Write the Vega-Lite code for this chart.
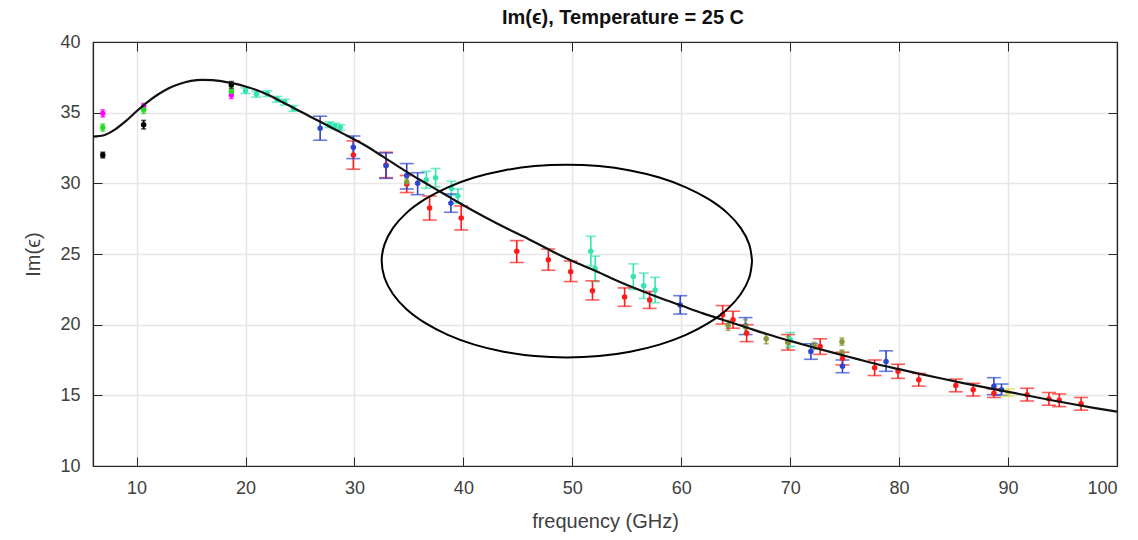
{
  "$schema": "https://vega.github.io/schema/vega-lite/v6.json",
  "autosize": {"type": "none"},
  "width": 1024,
  "height": 424,
  "padding": {"left": 93, "top": 42, "right": 21, "bottom": 74},
  "background": "white",
  "title": {"text": "Im(ϵ), Temperature = 25 C", "font": "Liberation Sans", "fontSize": 20, "fontWeight": "bold", "color": "#111111", "offset": 5, "dx": 18},
  "config": {
    "view": {"stroke": "#262626", "strokeWidth": 1.2},
    "axis": {
      "labelFont": "Liberation Sans", "labelFontSize": 18, "labelColor": "#404040",
      "titleFont": "Liberation Sans", "titleFontSize": 20, "titleColor": "#404040", "titleFontWeight": "normal",
      "gridColor": "#e6e6e6", "gridWidth": 1.5, "domainColor": "#262626", "domainWidth": 1.2,
      "tickColor": "#262626", "tickSize": -9, "tickWidth": 1
    }
  },
  "datasets": {
    "pts": [
      {"s": "black", "f": 6.9, "v": 32.0, "lo": 31.8, "hi": 32.2},
      {"s": "black", "f": 10.65, "v": 34.15, "lo": 33.85, "hi": 34.45},
      {"s": "black", "f": 18.7, "v": 36.95, "lo": 36.7, "hi": 37.2},
      {"s": "magenta", "f": 6.9, "v": 34.95, "lo": 34.7, "hi": 35.2},
      {"s": "magenta", "f": 10.65, "v": 35.45, "lo": 35.25, "hi": 35.65},
      {"s": "magenta", "f": 18.7, "v": 36.25, "lo": 36.0, "hi": 36.5},
      {"s": "green", "f": 6.9, "v": 33.95, "lo": 33.7, "hi": 34.2},
      {"s": "green", "f": 10.65, "v": 35.2, "lo": 34.95, "hi": 35.45},
      {"s": "green", "f": 18.7, "v": 36.5, "lo": 36.2, "hi": 36.8},
      {"s": "aqua", "f": 20.0, "v": 36.55, "lo": 36.35, "hi": 36.75},
      {"s": "aqua", "f": 21.0, "v": 36.3, "lo": 36.1, "hi": 36.5},
      {"s": "aqua", "f": 22.0, "v": 36.35, "lo": 36.15, "hi": 36.55},
      {"s": "aqua", "f": 22.9, "v": 35.95, "lo": 35.75, "hi": 36.15},
      {"s": "aqua", "f": 23.6, "v": 35.75, "lo": 35.55, "hi": 35.95},
      {"s": "aqua", "f": 24.4, "v": 35.3, "lo": 35.1, "hi": 35.5},
      {"s": "aqua", "f": 27.7, "v": 34.15, "lo": 33.95, "hi": 34.35},
      {"s": "aqua", "f": 28.2, "v": 34.05, "lo": 33.85, "hi": 34.25},
      {"s": "aqua", "f": 28.7, "v": 33.95, "lo": 33.75, "hi": 34.15},
      {"s": "aqua", "f": 36.6, "v": 30.25, "lo": 29.65, "hi": 30.85},
      {"s": "aqua", "f": 37.45, "v": 30.4, "lo": 29.75, "hi": 31.05},
      {"s": "aqua", "f": 38.9, "v": 29.65, "lo": 29.15, "hi": 30.15},
      {"s": "aqua", "f": 39.5, "v": 29.1, "lo": 28.6, "hi": 29.6},
      {"s": "aqua", "f": 51.7, "v": 25.2, "lo": 24.15, "hi": 26.25},
      {"s": "aqua", "f": 52.1, "v": 23.95, "lo": 23.05, "hi": 24.85},
      {"s": "aqua", "f": 55.6, "v": 23.4, "lo": 22.5, "hi": 24.3},
      {"s": "aqua", "f": 56.55, "v": 22.75, "lo": 21.85, "hi": 23.65},
      {"s": "aqua", "f": 57.6, "v": 22.45, "lo": 21.55, "hi": 23.35},
      {"s": "aqua", "f": 70.0, "v": 18.95, "lo": 18.45, "hi": 19.45},
      {"s": "red", "f": 29.9, "v": 32.0, "lo": 31.0, "hi": 33.0},
      {"s": "red", "f": 32.9, "v": 31.3, "lo": 30.4, "hi": 32.2},
      {"s": "red", "f": 34.8, "v": 29.95, "lo": 29.35, "hi": 30.55},
      {"s": "red", "f": 36.9, "v": 28.25, "lo": 27.4, "hi": 29.1},
      {"s": "red", "f": 39.8, "v": 27.55, "lo": 26.7, "hi": 28.4},
      {"s": "red", "f": 44.9, "v": 25.2, "lo": 24.4, "hi": 25.95},
      {"s": "red", "f": 47.8, "v": 24.6, "lo": 23.85, "hi": 25.35},
      {"s": "red", "f": 49.85, "v": 23.75, "lo": 23.05, "hi": 24.5},
      {"s": "red", "f": 51.85, "v": 22.4, "lo": 21.75, "hi": 23.1},
      {"s": "red", "f": 54.8, "v": 21.95, "lo": 21.3, "hi": 22.6},
      {"s": "red", "f": 57.1, "v": 21.75, "lo": 21.15, "hi": 22.35},
      {"s": "red", "f": 63.8, "v": 20.7, "lo": 20.05, "hi": 21.35},
      {"s": "red", "f": 64.75, "v": 20.35, "lo": 19.75, "hi": 20.95},
      {"s": "red", "f": 66.0, "v": 19.4, "lo": 18.8, "hi": 20.0},
      {"s": "red", "f": 69.8, "v": 18.75, "lo": 18.2, "hi": 19.3},
      {"s": "red", "f": 72.75, "v": 18.45, "lo": 17.9, "hi": 19.0},
      {"s": "red", "f": 74.8, "v": 17.6, "lo": 17.15, "hi": 18.05},
      {"s": "red", "f": 77.75, "v": 16.95, "lo": 16.4, "hi": 17.5},
      {"s": "red", "f": 79.9, "v": 16.7, "lo": 16.2, "hi": 17.2},
      {"s": "red", "f": 81.8, "v": 16.1, "lo": 15.65, "hi": 16.55},
      {"s": "red", "f": 85.2, "v": 15.7, "lo": 15.25, "hi": 16.15},
      {"s": "red", "f": 86.8, "v": 15.4, "lo": 14.95, "hi": 15.85},
      {"s": "red", "f": 88.7, "v": 15.15, "lo": 14.85, "hi": 15.45},
      {"s": "red", "f": 91.75, "v": 15.05, "lo": 14.6, "hi": 15.5},
      {"s": "red", "f": 93.75, "v": 14.75, "lo": 14.3, "hi": 15.2},
      {"s": "red", "f": 94.7, "v": 14.65, "lo": 14.2, "hi": 15.1},
      {"s": "red", "f": 96.7, "v": 14.4, "lo": 13.95, "hi": 14.85},
      {"s": "blue", "f": 26.85, "v": 33.9, "lo": 33.05, "hi": 34.75},
      {"s": "blue", "f": 29.9, "v": 32.55, "lo": 31.75, "hi": 33.35},
      {"s": "blue", "f": 32.9, "v": 31.25, "lo": 30.35, "hi": 32.15},
      {"s": "blue", "f": 34.8, "v": 30.55, "lo": 29.6, "hi": 31.4},
      {"s": "blue", "f": 35.8, "v": 30.0, "lo": 29.2, "hi": 30.75},
      {"s": "blue", "f": 38.85, "v": 28.6, "lo": 27.95, "hi": 29.25},
      {"s": "blue", "f": 59.9, "v": 21.4, "lo": 20.75, "hi": 22.05},
      {"s": "blue", "f": 65.9, "v": 19.9, "lo": 19.3, "hi": 20.5},
      {"s": "blue", "f": 71.9, "v": 18.1, "lo": 17.55, "hi": 18.65},
      {"s": "blue", "f": 74.8, "v": 17.05, "lo": 16.6, "hi": 17.5},
      {"s": "blue", "f": 78.8, "v": 17.4, "lo": 16.7, "hi": 18.15},
      {"s": "blue", "f": 88.7, "v": 15.65, "lo": 15.05, "hi": 16.25},
      {"s": "blue", "f": 89.4, "v": 15.4, "lo": 15.0, "hi": 15.8},
      {"s": "olive", "f": 34.8, "v": 30.1, "lo": 29.85, "hi": 30.35},
      {"s": "olive", "f": 64.3, "v": 19.95, "lo": 19.6, "hi": 20.3},
      {"s": "olive", "f": 65.9, "v": 19.85, "lo": 19.35, "hi": 20.35},
      {"s": "olive", "f": 67.8, "v": 19.0, "lo": 18.65, "hi": 19.35},
      {"s": "olive", "f": 69.8, "v": 18.75, "lo": 18.35, "hi": 19.15},
      {"s": "olive", "f": 72.2, "v": 18.5, "lo": 18.25, "hi": 18.75},
      {"s": "olive", "f": 74.75, "v": 18.8, "lo": 18.55, "hi": 19.05},
      {"s": "olive", "f": 74.75, "v": 18.0, "lo": 17.8, "hi": 18.2},
      {"s": "yellow", "f": 90.0, "v": 15.2, "lo": 14.95, "hi": 15.45}
    ],
    "model": [
      {"f": 6, "v": 33.3}, {"f": 7, "v": 33.4}, {"f": 8, "v": 33.8}, {"f": 9, "v": 34.4},
      {"f": 10, "v": 35.1}, {"f": 11, "v": 35.75}, {"f": 12, "v": 36.3}, {"f": 13, "v": 36.75},
      {"f": 14, "v": 37.05}, {"f": 15, "v": 37.25}, {"f": 16, "v": 37.32}, {"f": 17, "v": 37.3},
      {"f": 18, "v": 37.2}, {"f": 19, "v": 37.05}, {"f": 20, "v": 36.85}, {"f": 21, "v": 36.6},
      {"f": 22, "v": 36.28}, {"f": 23, "v": 35.9}, {"f": 24, "v": 35.5}, {"f": 25, "v": 35.1},
      {"f": 26, "v": 34.7}, {"f": 27, "v": 34.3}, {"f": 28, "v": 33.9}, {"f": 29, "v": 33.5},
      {"f": 30, "v": 33.1}, {"f": 31, "v": 32.68}, {"f": 32, "v": 32.2}, {"f": 33, "v": 31.7},
      {"f": 34, "v": 31.2}, {"f": 35, "v": 30.72}, {"f": 36, "v": 30.25}, {"f": 37, "v": 29.8},
      {"f": 38, "v": 29.35}, {"f": 39, "v": 28.9}, {"f": 40, "v": 28.45}, {"f": 42, "v": 27.6},
      {"f": 44, "v": 26.8}, {"f": 46, "v": 26.05}, {"f": 48, "v": 25.25}, {"f": 50, "v": 24.5},
      {"f": 52, "v": 23.85}, {"f": 54, "v": 23.15}, {"f": 56, "v": 22.5}, {"f": 58, "v": 21.9},
      {"f": 60, "v": 21.35}, {"f": 62, "v": 20.8}, {"f": 64, "v": 20.3}, {"f": 66, "v": 19.8},
      {"f": 68, "v": 19.3}, {"f": 70, "v": 18.85}, {"f": 72, "v": 18.42}, {"f": 74, "v": 18.0},
      {"f": 76, "v": 17.6}, {"f": 78, "v": 17.2}, {"f": 80, "v": 16.85}, {"f": 82, "v": 16.5},
      {"f": 84, "v": 16.17}, {"f": 86, "v": 15.85}, {"f": 88, "v": 15.55}, {"f": 90, "v": 15.25},
      {"f": 92, "v": 14.95}, {"f": 94, "v": 14.65}, {"f": 96, "v": 14.37}, {"f": 98, "v": 14.1},
      {"f": 100, "v": 13.85}
    ],
    "ellipse": [
      {"i": 0, "f": 66.5, "v": 24.5}, {"i": 1, "f": 66.24, "v": 25.68}, {"i": 2, "f": 65.47, "v": 26.83},
      {"i": 3, "f": 64.22, "v": 27.91}, {"i": 4, "f": 62.52, "v": 28.88}, {"i": 5, "f": 60.43, "v": 29.72},
      {"i": 6, "f": 58.0, "v": 30.41}, {"i": 7, "f": 55.31, "v": 30.91}, {"i": 8, "f": 52.45, "v": 31.22},
      {"i": 9, "f": 49.5, "v": 31.32}, {"i": 10, "f": 46.55, "v": 31.22}, {"i": 11, "f": 43.69, "v": 30.91},
      {"i": 12, "f": 41.0, "v": 30.41}, {"i": 13, "f": 38.57, "v": 29.72}, {"i": 14, "f": 36.48, "v": 28.88},
      {"i": 15, "f": 34.78, "v": 27.91}, {"i": 16, "f": 33.53, "v": 26.83}, {"i": 17, "f": 32.76, "v": 25.68},
      {"i": 18, "f": 32.5, "v": 24.5}, {"i": 19, "f": 32.76, "v": 23.32}, {"i": 20, "f": 33.53, "v": 22.17},
      {"i": 21, "f": 34.78, "v": 21.09}, {"i": 22, "f": 36.48, "v": 20.12}, {"i": 23, "f": 38.57, "v": 19.28},
      {"i": 24, "f": 41.0, "v": 18.59}, {"i": 25, "f": 43.69, "v": 18.09}, {"i": 26, "f": 46.55, "v": 17.78},
      {"i": 27, "f": 49.5, "v": 17.68}, {"i": 28, "f": 52.45, "v": 17.78}, {"i": 29, "f": 55.31, "v": 18.09},
      {"i": 30, "f": 58.0, "v": 18.59}, {"i": 31, "f": 60.43, "v": 19.28}, {"i": 32, "f": 62.52, "v": 20.12},
      {"i": 33, "f": 64.22, "v": 21.09}, {"i": 34, "f": 65.47, "v": 22.17}, {"i": 35, "f": 66.24, "v": 23.32},
      {"i": 36, "f": 66.5, "v": 24.5}
    ]
  },
  "layer": [
    {
      "data": {"name": "pts"},
      "mark": {"type": "rule", "strokeWidth": 1.6},
      "encoding": {
        "x": {"field": "f", "type": "quantitative", "scale": {"domain": [6, 100], "nice": false}, "axis": null},
        "y": {"field": "lo", "type": "quantitative", "scale": {"domain": [10, 40], "nice": false}, "axis": null},
        "y2": {"field": "hi"},
        "color": {"field": "s", "type": "nominal", "legend": null,
          "scale": {"domain": ["black", "magenta", "green", "aqua", "blue", "red", "olive", "yellow"],
                    "range": ["#000000", "#ff00ff", "#22dd22", "#33e6b0", "#2a45d0", "#ff1a1a", "#86993c", "#d8e040"]}}
      }
    },
    {
      "data": {"name": "pts"},
      "mark": {"type": "tick", "orient": "horizontal", "thickness": 1.6},
      "encoding": {
        "x": {"field": "f", "type": "quantitative", "axis": null},
        "y": {"field": "lo", "type": "quantitative", "axis": null},
        "size": {"condition": [
          {"test": "indexof(['black','magenta','green','olive'], datum.s) >= 0", "value": 5},
          {"test": "datum.s === 'aqua'", "value": 10}], "value": 14},
        "color": {"field": "s", "type": "nominal", "legend": null}
      }
    },
    {
      "data": {"name": "pts"},
      "mark": {"type": "tick", "orient": "horizontal", "thickness": 1.6},
      "encoding": {
        "x": {"field": "f", "type": "quantitative", "axis": null},
        "y": {"field": "hi", "type": "quantitative", "axis": null},
        "size": {"condition": [
          {"test": "indexof(['black','magenta','green','olive'], datum.s) >= 0", "value": 5},
          {"test": "datum.s === 'aqua'", "value": 10}], "value": 14},
        "color": {"field": "s", "type": "nominal", "legend": null}
      }
    },
    {
      "data": {"name": "pts"},
      "mark": {"type": "circle", "size": 30, "opacity": 1},
      "encoding": {
        "x": {"field": "f", "type": "quantitative", "axis": null},
        "y": {"field": "v", "type": "quantitative", "axis": null},
        "color": {"field": "s", "type": "nominal", "legend": null}
      }
    },
    {
      "data": {"name": "model"},
      "mark": {"type": "line", "color": "#111111", "strokeWidth": 2.2, "interpolate": "monotone"},
      "encoding": {
        "x": {"field": "f", "type": "quantitative",
          "axis": {"values": [10, 20, 30, 40, 50, 60, 70, 80, 90, 100], "title": "frequency (GHz)", "grid": true, "labelPadding": 22, "titlePadding": 14}},
        "y": {"field": "v", "type": "quantitative",
          "axis": {"values": [10, 15, 20, 25, 30, 35, 40], "title": "Im(ϵ)", "grid": true, "labelPadding": 22, "titlePadding": 16}}
      }
    },
    {
      "data": {"name": "ellipse"},
      "mark": {"type": "line", "color": "#000000", "strokeWidth": 2, "interpolate": "catmull-rom"},
      "encoding": {
        "x": {"field": "f", "type": "quantitative",
          "axis": {"orient": "top", "values": [10, 20, 30, 40, 50, 60, 70, 80, 90, 100], "labels": false, "title": null, "grid": false}},
        "y": {"field": "v", "type": "quantitative",
          "axis": {"orient": "right", "values": [10, 15, 20, 25, 30, 35, 40], "labels": false, "title": null, "grid": false}},
        "order": {"field": "i", "type": "quantitative"}
      }
    }
  ],
  "resolve": {"axis": {"x": "independent", "y": "independent"}}
}
